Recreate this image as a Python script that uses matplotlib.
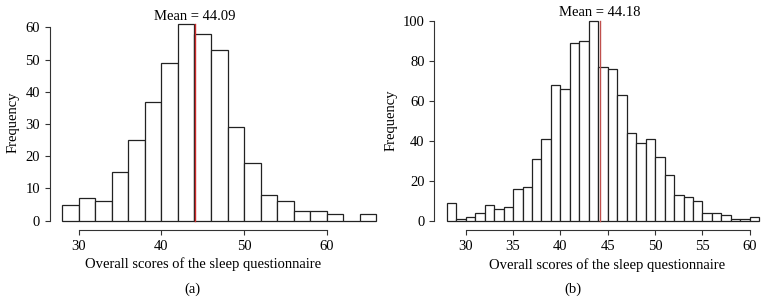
import numpy as np
import matplotlib
matplotlib.use("Agg")
import matplotlib.pyplot as plt

plt.rcParams['font.family'] = ['Liberation Serif', 'DejaVu Serif']

# panel (a): bins of width 2 from 28 to 66
edges_a = np.arange(28, 67, 2)
counts_a = [5, 7, 6, 15, 25, 37, 49, 61, 58, 53, 29, 18, 8, 6, 3, 3, 2, 0, 2]
mean_a = 44.09

# panel (b): bins of width 1 from 28 to 61
edges_b = np.arange(28, 62, 1)
counts_b = [9, 1, 2, 4, 8, 6, 7, 16, 17, 31, 41, 68, 66, 89, 90, 100, 77, 76,
            63, 44, 39, 41, 32, 23, 13, 12, 10, 4, 4, 3, 1, 1, 2]
mean_b = 44.18

xticks_a = [30, 40, 50, 60]
yticks_a = [0, 10, 20, 30, 40, 50, 60]
xticks_b = [30, 35, 40, 45, 50, 55, 60]
yticks_b = [0, 20, 40, 60, 80, 100]

W, H = 767, 302
fig = plt.figure(figsize=(W / 100, H / 100), dpi=100)


def px_axes(x0, x1, y0, y1):
    # pixel box (top-left origin) -> figure fraction
    return fig.add_axes([x0 / W, 1 - y1 / H, (x1 - x0) / W, (y1 - y0) / H])


def hist_panel(ax, edges, counts, mean, xticks, yticks, xlim, ylim, red,
               label, label_x, xlab_frac):
    ax.bar(edges[:-1], counts, width=np.diff(edges), align='edge',
           color='white', edgecolor='#222222', linewidth=0.9)
    top = max(counts)
    ax.plot([mean, mean], [0, top], color=red, linewidth=1.0)
    ax.text(mean, top + 0.8 * (ylim[1] - ylim[0]) / 100, 'Mean = %.2f' % mean,
            ha='center', va='bottom', fontsize=10.5, clip_on=False)
    ax.set_xlim(xlim)
    ax.set_ylim(ylim)
    for s in ['top', 'right']:
        ax.spines[s].set_visible(False)
    ax.spines['left'].set_bounds(yticks[0], yticks[-1])
    ax.spines['bottom'].set_bounds(xticks[0], xticks[-1])
    ax.spines['bottom'].set_position(('outward', 1))
    ax.spines['left'].set_color('#333333')
    ax.spines['bottom'].set_color('#333333')
    ax.set_xticks(xticks)
    ax.set_yticks(yticks)
    ax.tick_params(labelsize=10.5, length=3.5, width=0.8, color='#333333', pad=3.5)
    ax.set_xlabel('Overall scores of the sleep questionnaire', fontsize=10.5)
    ax.xaxis.set_label_coords(xlab_frac, -0.135)
    ax.set_ylabel('Frequency', fontsize=10.5, labelpad=4)
    fig.text(label_x / W, 1 - 289 / H, label, ha='center', va='center',
             fontsize=10.5)


ax_a = px_axes(49.6, 389, 16.4, 228.5)
hist_panel(ax_a, edges_a, counts_a, mean_a, xticks_a, yticks_a,
           (26.48, 67.52), (-2.44, 63.44), '#cc2a2a', '(a)', 192, 0.4535)

ax_b = px_axes(434.3, 766, 12.7, 228.7)
hist_panel(ax_b, edges_b, counts_b, mean_b, xticks_b, yticks_b,
           (26.68, 61.71), (-4, 104), '#c0504d', '(b)', 573, 0.522)

fig.savefig('out.png', dpi=100)
